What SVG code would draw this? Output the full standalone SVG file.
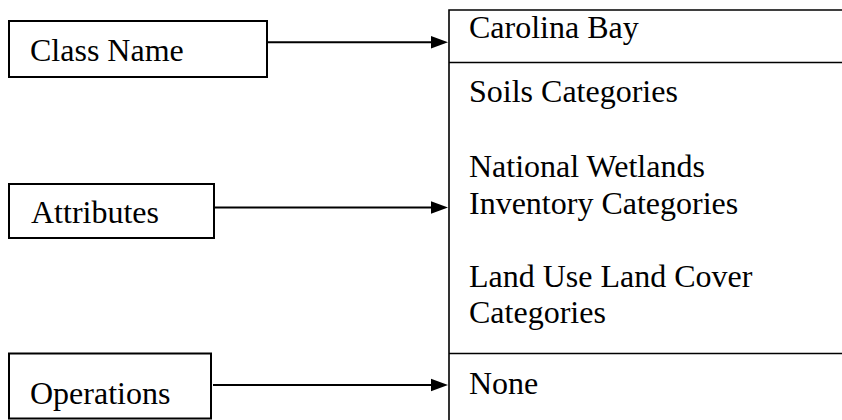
<svg xmlns="http://www.w3.org/2000/svg" width="842" height="420" viewBox="0 0 842 420">
<defs>
<style>
.box{fill:#fff;stroke:#000;stroke-width:2}
.cls{fill:none;stroke:#000;stroke-width:1.6}
.t{font-family:"Liberation Serif","Times New Roman",serif;font-size:32px;fill:#000}
.conn{stroke:#000;stroke-width:2;fill:none}
.head{fill:#000}
</style>
</defs>
<rect width="842" height="420" fill="#fff"/>
<g id="class-name">
<rect class="box" x="9" y="21" width="258" height="56"/>
<text class="t" x="30" y="61">Class Name</text>
</g>
<g id="attributes">
<rect class="box" x="9" y="184" width="205" height="54"/>
<text class="t" x="31" y="223">Attributes</text>
</g>
<g id="operations">
<rect class="box" x="9" y="353.5" width="202" height="65"/>
<text class="t" x="30" y="404">Operations</text>
</g>
<g id="class-box">
<path class="cls" d="M449,430 V10 H850 M449,62.5 H850 M449,353.5 H850"/>
<text class="t" x="469" y="37.5">Carolina Bay</text>
<text class="t" x="469" y="101.5">Soils Categories</text>
<text class="t" x="469" y="177">National Wetlands</text>
<text class="t" x="469" y="214">Inventory Categories</text>
<text class="t" x="469" y="286.5">Land Use Land Cover</text>
<text class="t" x="469" y="323">Categories</text>
<text class="t" x="469" y="394">None</text>
</g>
<g id="connectors">
<line class="conn" x1="267" y1="42.3" x2="434" y2="42.3"/>
<polygon class="head" points="448,42.3 431,36 431,48.6"/>
<line class="conn" x1="214" y1="207.5" x2="434" y2="207.5"/>
<polygon class="head" points="448,207.5 431,201.2 431,213.8"/>
<line class="conn" x1="213" y1="385" x2="434" y2="385"/>
<polygon class="head" points="448,385 431,378.7 431,391.3"/>
</g>
</svg>
